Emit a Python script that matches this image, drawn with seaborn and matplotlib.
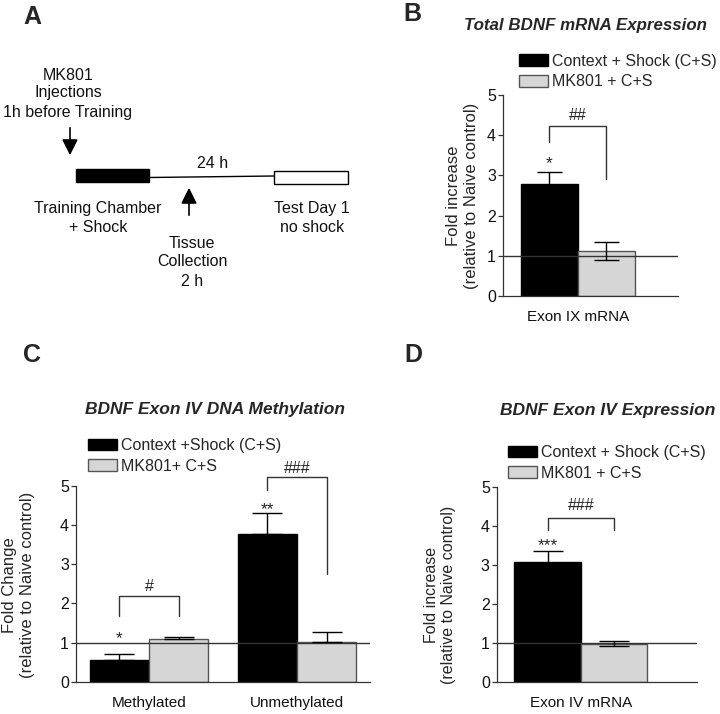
import matplotlib
matplotlib.use("Agg")
import matplotlib.pyplot as plt
import seaborn as sns
import pandas as pd
from matplotlib.patches import Patch, Rectangle, FancyArrowPatch

# ---------------- data ----------------
legend_b = ["Context + Shock (C+S)", "MK801 + C+S"]
legend_c = ["Context +Shock (C+S)", "MK801+ C+S"]
legend_d = ["Context + Shock (C+S)", "MK801 + C+S"]

b_cats = ["Exon IX mRNA"]
b_black = [2.78]
b_gray = [1.12]
b_black_err_hi = [0.31]
b_black_err_lo = [0.31]
b_gray_err_hi = [0.22]
b_gray_err_lo = [0.22]

c_cats = ["Methylated", "Unmethylated"]
c_black = [0.55, 3.77]
c_gray = [1.08, 1.02]
c_black_err_hi = [0.17, 0.53]
c_black_err_lo = [0.0, 0.0]
c_gray_err_hi = [0.06, 0.26]
c_gray_err_lo = [0.0, 0.0]

d_cats = ["Exon IV mRNA"]
d_black = [3.07]
d_gray = [0.97]
d_black_err_hi = [0.29]
d_black_err_lo = [0.29]
d_gray_err_hi = [0.08]
d_gray_err_lo = [0.05]

yticks = [0, 1, 2, 3, 4, 5]

# significance annotations: (bar_index_left, bar_index_right, y_left, y_top, y_right, label, label_y)
b_brackets = [(0, 0, 3.84, 4.24, 2.91, "##", 4.50)]
b_stars = [(0, "*", 3.30)]
c_brackets = [(0, 0, 1.69, 2.20, 1.69, "#", 2.43),
              (1, 1, 4.90, 5.23, 2.75, "###", 5.45)]
c_stars = [(0, "*", 1.10), (1, "**", 4.40)]
d_brackets = [(0, 0, 3.90, 4.20, 3.90, "###", 4.53)]
d_stars = [(0, "***", 3.49)]

# ---------------- style ----------------
sns.set_theme(style="ticks")
plt.rcParams["font.family"] = ["Liberation Sans", "DejaVu Sans"]
BLACK = "#000000"
GRAY = "#d6d6d6"
GRAY_EDGE = "#555555"
LINE = "#333333"

W, H = 720, 714
fig = plt.figure(figsize=(7.2, 7.14), dpi=100)


def rect(l, t, r, b):
    return [l / W, 1 - b / H, (r - l) / W, (b - t) / H]


def panel(ax, cats, black, gray, bhi, blo, ghi, glo, labels, xlim, ylab,
          ylab_xy, leg_xy, capsize, brackets, stars, ylab_size=12):
    n = len(cats)
    df = pd.DataFrame({
        "cat": cats * 2,
        "grp": [labels[0]] * n + [labels[1]] * n,
        "val": list(black) + list(gray),
    })
    sns.barplot(data=df, x="cat", y="val", hue="grp", hue_order=labels,
                palette=[BLACK, GRAY], errorbar=None, width=0.8,
                saturation=1, legend=False, ax=ax, linewidth=1)
    cont_b, cont_g = ax.containers[0], ax.containers[1]
    for p in cont_b:
        p.set_edgecolor(BLACK)
    for p in cont_g:
        p.set_edgecolor(GRAY_EDGE)
    xb = [p.get_x() + p.get_width() / 2 for p in cont_b]
    xg = [p.get_x() + p.get_width() / 2 for p in cont_g]
    ax.axhline(1, color=LINE, lw=1, zorder=1.5)
    ax.errorbar(xb, black, yerr=[blo, bhi], fmt="none", ecolor=BLACK,
                elinewidth=1, capsize=capsize, capthick=1, zorder=3)
    ax.errorbar(xg, gray, yerr=[glo, ghi], fmt="none", ecolor=BLACK,
                elinewidth=1, capsize=capsize, capthick=1, zorder=3)
    for (i, j, yl, yt, yr, lab, ly) in brackets:
        x1, x2 = xb[i], xg[j]
        ax.plot([x1, x1, x2, x2], [yl, yt, yt, yr], color=LINE, lw=1,
                clip_on=False)
        ax.text((x1 + x2) / 2, ly, lab, ha="center", va="center",
                fontsize=11.5, color="#222222", clip_on=False)
    for (i, lab, ly) in stars:
        ax.text(xb[i], ly, lab, ha="center", va="center", fontsize=12.5,
                color="#222222")
    ax.set_xlim(*xlim)
    ax.set_ylim(0, 5)
    ax.set_yticks(yticks)
    ax.set_xlabel("")
    ax.set_ylabel(ylab, fontsize=ylab_size, linespacing=1.2, va="center")
    ax.yaxis.set_label_coords(*ylab_xy)
    sns.despine(ax=ax)
    for s in ("left", "bottom"):
        ax.spines[s].set_linewidth(0.9)
        ax.spines[s].set_color(LINE)
    ax.tick_params(axis="y", length=3.5, width=0.9, color=LINE, pad=1.5,
                   labelsize=11.5, labelcolor="#111111")
    ax.tick_params(axis="x", length=0, pad=10, labelsize=11,
                   labelcolor="#111111")
    ax.legend(handles=[Patch(facecolor=BLACK, edgecolor=BLACK),
                       Patch(facecolor=GRAY, edgecolor=GRAY_EDGE)],
              labels=labels, loc="center left",
              bbox_to_anchor=(leg_xy[0] / W, 1 - leg_xy[1] / H),
              bbox_transform=fig.transFigure, frameon=False, fontsize=11.5,
              handlelength=1.8, handleheight=0.75, handletextpad=0.25,
              labelspacing=0.35, borderpad=0, borderaxespad=0)


# ---------------- overlay for panel A and letters ----------------
ax0 = fig.add_axes([0, 0, 1, 1])
ax0.set_xlim(0, W)
ax0.set_ylim(H, 0)
ax0.set_axis_off()

for lab, x, y in [("A", 32, 17), ("B", 412, 14), ("C", 32, 355), ("D", 413, 355)]:
    ax0.text(x, y, lab, fontsize=18, fontweight="bold", ha="center", va="center")

a_texts = [("MK801", 68, 75), ("Injections", 68, 93), ("1h before Training", 68, 113),
           ("24 h", 213, 164),
           ("Training Chamber", 98, 209), ("+ Shock", 98, 228),
           ("Tissue", 192, 243), ("Collection", 192, 262), ("2 h", 192, 281),
           ("Test Day 1", 312, 208), ("no shock", 312, 228)]
for s, x, y in a_texts:
    ax0.text(x, y, s, fontsize=11.5, ha="center", va="center", color="#111111")

ax0.add_patch(Rectangle((76, 169), 73, 13, facecolor="black", edgecolor="black", lw=1))
ax0.add_patch(Rectangle((274, 171), 74, 13, facecolor="white", edgecolor="black", lw=1))
ax0.plot([149, 274], [177.5, 176], color="black", lw=1)
ax0.add_patch(FancyArrowPatch((70, 125), (70, 158), arrowstyle="-|>,head_length=6,head_width=3",
                              color="black", lw=1.2, mutation_scale=1.6))
ax0.add_patch(FancyArrowPatch((189, 218), (189, 185), arrowstyle="-|>,head_length=6,head_width=3",
                              color="black", lw=1.2, mutation_scale=1.6))

# ---------------- panel B ----------------
axB = fig.add_axes(rect(503, 95, 678, 296))
panel(axB, b_cats, b_black, b_gray, b_black_err_hi, b_black_err_lo,
      b_gray_err_hi, b_gray_err_lo, legend_b, (-0.526, 0.702),
      "Fold increase\n(relative to Naive control)", (-0.231, 0.5),
      (519, 71.5), 9, b_brackets, b_stars)
axB.text(0.471, 1.348, "Total BDNF mRNA Expression", transform=axB.transAxes,
         ha="center", va="center", fontsize=12.2, fontweight="bold", fontstyle="italic")

# ---------------- panel C ----------------
axC = fig.add_axes(rect(76, 486, 370, 681.7))
panel(axC, c_cats, c_black, c_gray, c_black_err_hi, c_black_err_lo,
      c_gray_err_hi, c_gray_err_lo, legend_c, (-0.493, 1.493),
      "Fold Change\n(relative to Naive control)", (-0.196, 0.494),
      (88, 456), 11, c_brackets, c_stars)
axC.text((215 - 76) / 294, (681.7 - 410) / 195.7, "BDNF Exon IV DNA Methylation",
         transform=axC.transAxes, ha="center", va="center", fontsize=12.5,
         fontweight="bold", fontstyle="italic")

# ---------------- panel D ----------------
axD = fig.add_axes(rect(496.7, 487.3, 697, 681.7))
panel(axD, d_cats, d_black, d_gray, d_black_err_hi, d_black_err_lo,
      d_gray_err_hi, d_gray_err_lo, legend_d, (-0.506, 0.70),
      "Fold increase\n(relative to Naive control)", (-0.283, 0.446),
      (508, 463), 11, d_brackets, d_stars, ylab_size=11.5)
axD.text((608 - 496.7) / 200.3, (681.7 - 411) / 194.4, "BDNF Exon IV Expression",
         transform=axD.transAxes, ha="center", va="center", fontsize=12.5,
         fontweight="bold", fontstyle="italic")

fig.savefig("out.png", dpi=100)
